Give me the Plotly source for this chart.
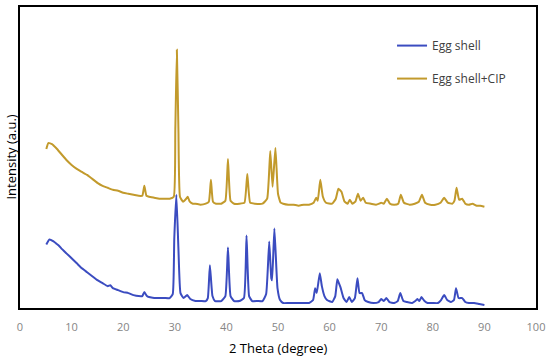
import plotly.graph_objects as go

# Egg shell + CIP (upper trace): 2-theta and intensity (a.u.)
cip_theta = [5.1, 5.5, 6.2, 7, 8, 9, 10, 11, 12, 13, 14, 15, 16, 17, 18, 19, 20, 21, 22, 23,
             23.7, 24.1, 24.5, 25, 26, 27, 28, 29, 29.8, 30.1, 30.4, 30.7, 31.0, 31.6, 32.2, 32.5,
             32.9, 33.5, 34, 35, 36, 36.6, 37.0, 37.4, 38, 39, 39.8, 40.3, 40.8, 41.5, 42.5, 43.5,
             44.05, 44.6, 45.5, 47, 47.9, 48.5, 48.95, 49.5, 50.0, 50.5, 51, 52, 53, 54, 55, 56,
             56.9, 57.4, 57.7, 58.2, 58.7, 59.3, 60.5, 61.2, 61.7, 62.3, 62.9, 63.5, 63.9, 64.4,
             65, 65.5, 66, 66.5, 67, 68, 69, 69.6, 70, 70.5, 71.1, 71.7, 72.5, 73.3, 73.8, 74.4,
             75.5, 76.5, 77.3, 77.9, 78.5, 79.5, 80.5, 81.5, 82.2, 82.9, 83.8, 84.2, 84.6, 85.1,
             85.7, 86.3, 87, 87.7, 88.5, 89.2, 90]
cip_intensity = [160, 166, 165, 161, 155, 149, 144, 140, 137, 134, 130, 126, 123, 121, 119, 118, 116, 115, 114, 113,
                 113, 123, 113, 112, 111, 110, 110, 110, 112, 180, 260, 180, 112, 107, 110, 112,
                 107, 105, 105, 104, 105, 107, 129, 107, 105, 105, 108, 150, 108, 105, 105, 106,
                 135, 106, 105, 105, 110, 158, 122, 161, 115, 106, 105, 104, 104, 103, 104, 104,
                 106, 111, 108, 129, 112, 106, 105, 110, 120, 117, 107, 105, 109, 105,
                 107, 115, 108, 111, 106, 105, 104, 105, 106, 105, 110, 105, 104, 105, 114, 106,
                 104, 105, 107, 114, 106, 104, 104, 106, 111, 106, 105, 108, 121, 109,
                 110, 105, 104, 105, 103, 103, 102]

# Egg shell (lower trace)
egg_theta = [5.1, 5.7, 6.5, 7, 7.5, 8, 9, 10, 11, 12, 13, 14, 15, 16, 17, 17.5, 18, 19, 20, 21,
             22, 23, 23.7, 24.1, 24.6, 25, 26, 27, 28, 29, 29.6, 29.9, 30.3, 30.7, 31.1, 31.7,
             32.4, 33, 34, 35, 36, 36.4, 36.8, 37.3, 37.8, 39, 39.8, 40.3, 40.8, 41.5, 42.5, 43.4,
             43.9, 44.4, 45, 46, 47, 47.7, 48.3, 48.7, 48.85, 49.3, 49.9, 50.4, 51, 52, 53, 54,
             55, 56, 56.8, 57.2, 57.5, 58.1, 58.5, 59, 59.5, 60.5, 61.1, 61.5, 61.8, 62.1, 62.7,
             63.3, 63.8, 64.3, 64.9, 65.4, 65.8, 66.3, 66.8, 67.5, 68.5, 69.5, 70, 70.5, 71, 71.6,
             72.5, 73.2, 73.7, 74.3, 75, 76, 76.6, 77, 77.4, 77.8, 78.4, 79, 80, 81, 81.6, 82.2,
             82.8, 83.5, 84.1, 84.5, 85, 85.7, 86.3, 87, 88, 89, 90]
egg_intensity = [64, 69, 67, 65, 63, 60, 55, 50, 45, 40, 36, 32, 28, 25, 22, 23, 20, 18, 16, 15,
                 13, 12, 12, 16, 12, 11, 10, 10, 10, 10, 14, 70, 114, 60, 15, 10,
                 13, 9, 7, 7, 7, 10, 43, 12, 7, 7, 12, 61, 12, 7, 7, 10,
                 73, 12, 7, 7, 7, 14, 67, 30, 28, 80, 20, 8, 5, 5, 5, 5,
                 5, 5, 8, 20, 15, 35, 22, 12, 8, 6, 12, 29, 25, 21, 10,
                 6, 11, 6, 10, 30, 15, 15, 8, 6, 5, 6, 9, 7, 10, 6,
                 5, 7, 15, 7, 6, 5, 7, 9, 7, 11, 7, 5, 5, 5, 8, 13,
                 8, 6, 8, 20, 10, 10, 6, 5, 5, 4, 3]

x_ticks = [0, 10, 20, 30, 40, 50, 60, 70, 80, 90, 100]

fig = go.Figure()
fig.add_trace(go.Scatter(x=egg_theta, y=egg_intensity, mode="lines", name="Egg shell",
                         line=dict(color="#3B4CC0", width=2, shape="spline", smoothing=0.4),
                         legendgroup="a"))
fig.add_trace(go.Scatter(x=cip_theta, y=cip_intensity, mode="lines", name="Egg shell+CIP",
                         line=dict(color="#C29A2C", width=2, shape="spline", smoothing=0.4),
                         legendgroup="b"))

fig.update_layout(
    width=550, height=357,
    margin=dict(l=20, r=11, t=5, b=49),
    paper_bgcolor="white", plot_bgcolor="white",
    font=dict(family="Open Sans", color="#404040"),
    showlegend=True,
    legend=dict(x=0.721, y=0.92, xanchor="left", yanchor="top",
                bgcolor="rgba(0,0,0,0)", font=dict(size=12, color="#404040"),
                tracegroupgap=14, itemwidth=30),
    xaxis=dict(range=[0, 100], tickvals=x_ticks, ticktext=[str(v) for v in x_ticks],
               showgrid=False, zeroline=False, showline=True, linecolor="black",
               linewidth=1.5, mirror=True, ticks="", tickfont=dict(size=11, color="#858585"),
               ticklabelstandoff=8),
    yaxis=dict(range=[0, 303], showticklabels=False, showgrid=False, zeroline=False,
               showline=True, linecolor="black", linewidth=1.5, mirror=True, ticks=""),
    annotations=[
        dict(text="2 Theta (degree)", xref="paper", yref="paper", x=0.5, y=-0.095,
             xanchor="center", yanchor="top", showarrow=False,
             font=dict(size=13, color="black")),
        dict(text="Intensity (a.u.)", xref="paper", yref="paper", x=-0.0193, y=0.5,
             xanchor="center", yanchor="middle", textangle=-90, showarrow=False,
             font=dict(size=13, color="black")),
    ],
)

fig.write_html("out.html", config={"displayModeBar": False},
               post_script="document.body.style.margin='0px';")
